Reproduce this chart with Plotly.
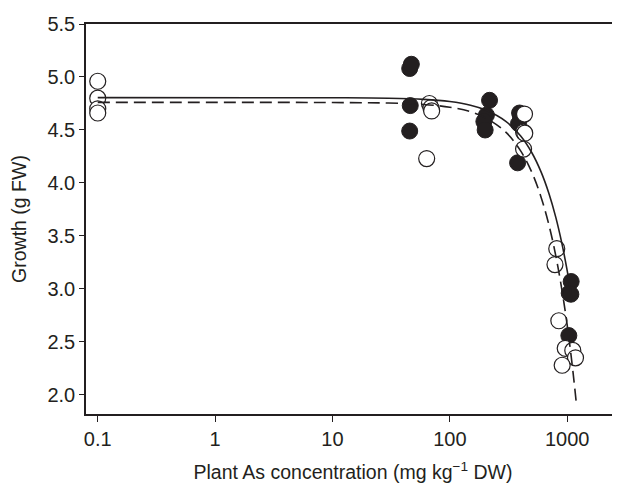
import plotly.graph_objects as go

# Filled circles (one treatment)
filled_x = [45.5, 47, 46, 45.5, 218, 205, 195, 200, 393, 400, 385, 378, 1081, 1040, 1075, 1033]
filled_y = [5.08, 5.12, 4.73, 4.49, 4.78, 4.64, 4.58, 4.50, 4.66, 4.63, 4.56, 4.19, 3.07, 2.96, 2.95, 2.56]

# Open circles (other treatment)
open_x = [0.1, 0.1, 0.1, 0.1, 67, 69, 70, 63.5, 433, 425, 435, 425, 815, 787, 849, 962, 1116, 1177, 906]
open_y = [4.96, 4.80, 4.70, 4.66, 4.75, 4.71, 4.68, 4.23, 4.65, 4.48, 4.47, 4.32, 3.38, 3.23, 2.70, 2.44, 2.42, 2.35, 2.28]

# Fitted curves
solid_x = [0.1, 10, 30, 60, 100, 150, 200, 300, 400, 500, 600, 700, 800, 900, 1000, 1100]
solid_y = [4.805, 4.804, 4.800, 4.789, 4.768, 4.734, 4.690, 4.581, 4.445, 4.285, 4.102, 3.898, 3.675, 3.432, 3.172, 2.894]
dash_x = [0.1, 10, 30, 60, 100, 150, 200, 300, 400, 500, 600, 700, 800, 900, 1000, 1100, 1194]
dash_y = [4.760, 4.759, 4.754, 4.741, 4.715, 4.672, 4.617, 4.479, 4.305, 4.100, 3.864, 3.601, 3.312, 2.997, 2.658, 2.296, 1.933]

x_ticks = [0.1, 1, 10, 100, 1000]
x_tick_text = ["0.1", "1", "10", "100", "1000"]
y_ticks = [2.0, 2.5, 3.0, 3.5, 4.0, 4.5, 5.0, 5.5]

dark = "#231f20"
family = "Liberation Sans, Arial, sans-serif"

fig = go.Figure()
fig.add_trace(go.Scatter(x=filled_x, y=filled_y, mode="markers",
                         marker=dict(size=16, color=dark, line=dict(color=dark, width=1)),
                         showlegend=False))
fig.add_trace(go.Scatter(x=open_x, y=open_y, mode="markers",
                         marker=dict(size=16, color="white", line=dict(color=dark, width=1.2)),
                         showlegend=False))
fig.add_trace(go.Scatter(x=solid_x, y=solid_y, mode="lines", line=dict(color=dark, width=1.6, shape="spline"),
                         showlegend=False))
fig.add_trace(go.Scatter(x=dash_x, y=dash_y, mode="lines",
                         line=dict(color=dark, width=1.6, dash="12px,6px", shape="spline"),
                         showlegend=False))

# the page body adds an 8px offset, so the figure is sized to fill the rest of the window
fig.update_layout(
    width=612, height=479,
    margin=dict(l=78, r=0, t=16, b=73),
    paper_bgcolor="white", plot_bgcolor="white",
    font=dict(family=family, size=20, color=dark),
)
fig.update_xaxes(type="log", range=[-1.1, 3.45], tickvals=x_ticks, ticktext=x_tick_text,
                 automargin=False,
                 showgrid=False, zeroline=False, showline=True, linecolor=dark, linewidth=1.5,
                 mirror=True, ticks="outside", ticklen=6, tickwidth=1.2, tickcolor=dark,
                 tickfont=dict(family=family, size=20, color=dark),
                 title=dict(text="Plant As concentration (mg kg<sup>−1</sup> DW)", standoff=17,
                            font=dict(family=family, size=19.5, color=dark)))
fig.update_yaxes(range=[1.82, 5.5], tickvals=y_ticks, tickformat=".1f",
                 automargin=False,
                 showgrid=False, zeroline=False, showline=True, linecolor=dark, linewidth=1.5,
                 ticks="outside", ticklen=5, tickwidth=1.2, tickcolor=dark,
                 tickfont=dict(family=family, size=20, color=dark),
                 title=dict(text="Growth (g FW)", standoff=18,
                            font=dict(family=family, size=19.5, color=dark)))

fig.write_html("out.html")
